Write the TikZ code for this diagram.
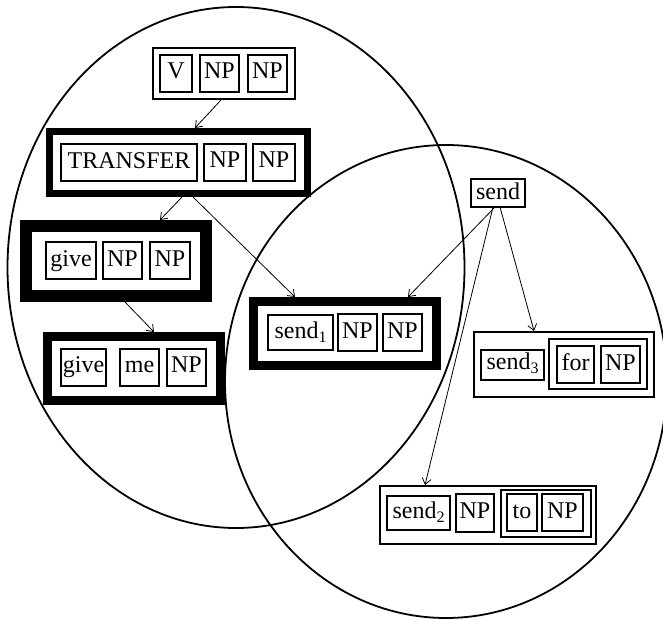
\documentclass[tikz,border=0pt]{standalone}
\usepackage{fontspec}
\setmainfont{Liberation Serif}
\usetikzlibrary{arrows.meta}
\newcommand{\sub}[1]{\raisebox{-0.4ex}{\fontsize{16}{16}\selectfont #1}}
\tikzset{
  word/.style={draw, line width=2pt, fill=white, inner sep=0pt, outer sep=0pt,
    font=\fontsize{24}{26}\selectfont, text height=16pt, text depth=5pt,
    minimum height=37pt},
  frame/.style={draw, fill=white, inner sep=0pt},
  thinframe/.style={frame, line width=2pt},
  container/.style={draw, line width=2pt, inner sep=0pt, outer sep=0pt},
  venn/.style={line width=1.8pt},
  link/.style={line width=0.8pt, -{Straight Barb[length=6pt,width=9pt]}}
}
\begin{document}
\begin{tikzpicture}[x=1pt,y=-1pt]
\useasboundingbox (0,0) rectangle (663,620);

% the two overlapping regions
\draw[venn] (236,267.5) ellipse [x radius=228.5pt, y radius=260.5pt];
\draw[venn] (446,381.5) ellipse [x radius=221pt, y radius=236.5pt];

% V NP NP
\node[thinframe, minimum width=142pt, minimum height=51pt] (vnp) at (224,73.5) {};
\node[word, minimum width=32pt] (vnpV) at (176,73.5) {V};
\node[word, minimum width=39pt] (vnpA) at (219.5,73.5) {NP};
\node[word, minimum width=39pt] (vnpB) at (267.5,73.5) {NP};

% TRANSFER NP NP
\node[frame, line width=7pt, minimum width=258pt, minimum height=62pt] (tr) at (178.5,162.5) {};
\node[word, minimum width=136pt] (trT) at (129,163) {TRANSFER};
\node[word, minimum width=42pt] (trA) at (225,162.5) {NP};
\node[word, minimum width=42pt] (trB) at (274,162.5) {NP};

% give NP NP
\node[frame, line width=12pt, minimum width=180pt, minimum height=70pt] (gv) at (116,261) {};
\node[word, minimum width=50pt] (gvG) at (71,260.5) {give};
\node[word, minimum width=39pt] (gvA) at (122.5,260.5) {NP};
\node[word, minimum width=40pt] (gvB) at (170,260.5) {NP};

% give me NP
\node[frame, line width=9pt, minimum width=173pt, minimum height=64pt] (gm) at (134,368.5) {};
\node[word, minimum width=45pt] (gmG) at (83.5,367) {give};
\node[word, minimum width=39pt] (gmM) at (139.5,367) {me};
\node[word, minimum width=39pt] (gmN) at (186.5,367) {NP};

% send_1 NP NP
\node[frame, line width=9pt, minimum width=183pt, minimum height=64pt] (s1) at (345,333.5) {};
\node[word, minimum width=65pt, minimum height=35pt] (s1S) at (300.5,332.5) {send\sub{1}};
\node[word, minimum width=39pt] (s1A) at (357.5,332.5) {NP};
\node[word, minimum width=39pt] (s1B) at (402.5,332.5) {NP};

% send
\node[word, minimum width=54pt, minimum height=28pt, text height=15pt, text depth=2pt] (send) at (498,193) {send};

% send_3 [for NP]
\node[thinframe, minimum width=180pt, minimum height=65pt] (s3) at (564,364.5) {};
\node[word, minimum width=63pt, minimum height=30pt, text height=15pt, text depth=6pt] (s3S) at (512.5,365) {send\sub{3}};
\node[container, minimum width=98pt, minimum height=50pt] (s3pp) at (598,364) {};
\node[word, minimum width=37pt] (s3F) at (575.5,364.5) {for};
\node[word, minimum width=39pt] (s3N) at (620.5,364.5) {NP};

% send_2 NP [to NP]
\node[thinframe, minimum width=216pt, minimum height=58pt] (s2) at (488,515) {};
\node[word, minimum width=63pt, minimum height=34pt] (s2S) at (418.5,513) {send\sub{2}};
\node[word, minimum width=38pt, minimum height=38pt] (s2A) at (475,513) {NP};
\node[container, minimum width=90pt, minimum height=47pt] (s2pp) at (546,513.5) {};
\node[word, minimum width=30pt] (s2T) at (522,512.5) {to};
\node[word, minimum width=41pt] (s2N) at (562.5,512.5) {NP};

% inheritance links
\draw[link] ([xshift=-3pt]vnp.south) -- ([xshift=16.5pt]tr.north);
\draw[link] ([xshift=3.5pt]tr.south) -- ([xshift=44pt]gv.north);
\draw[link] ([xshift=14.5pt]tr.south) -- ([xshift=-50pt]s1.north);
\draw[link] ([xshift=9pt]gv.south) -- ([xshift=20pt]gm.north);
\draw[link] ([xshift=-3pt]send.south) -- ([xshift=63pt]s1.north);
\draw[link] ([xshift=2pt]send.south) -- ([xshift=-30pt]s3.north);
\draw[link] ([xshift=-5pt]send.south) -- ([xshift=-63pt]s2.north);
\end{tikzpicture}
\end{document}
